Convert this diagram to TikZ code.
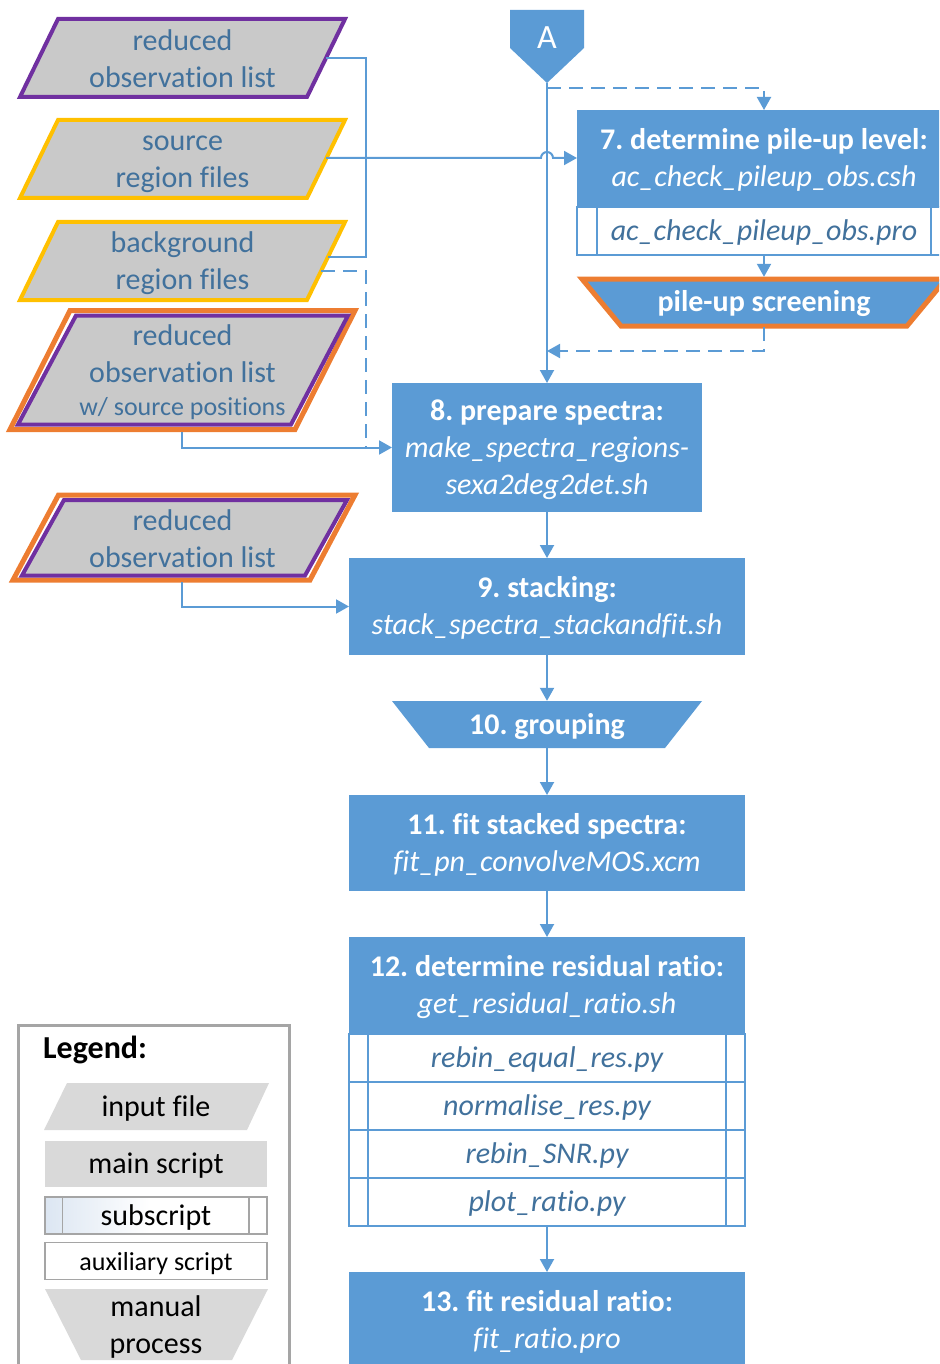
\documentclass[tikz,border=0pt]{standalone}
\usepackage{fontspec}
\setmainfont{Carlito}[Ligatures=CommonOff]
\usetikzlibrary{arrows.meta,calc}
\frenchspacing
\newcommand\Tst{\rule{0pt}{28.4pt}}
\newcommand\Bst{\rule[-8.6pt]{0pt}{8.6pt}}
\newcommand\Sst{\rule[-8.6pt]{0pt}{37pt}}
\definecolor{mainblue}{HTML}{5B9BD5}
\definecolor{txtblue}{HTML}{41719C}
\definecolor{infill}{HTML}{C9C9C9}
\definecolor{legfill}{HTML}{D9D9D9}
\definecolor{purp}{HTML}{7030A0}
\definecolor{yell}{HTML}{FFC000}
\definecolor{oran}{HTML}{ED7D31}
\definecolor{leggray}{HTML}{A5A5A5}
\definecolor{legblue}{HTML}{DCE6F2}
\tikzset{
  conn/.style={draw=mainblue, line width=2pt},
  arr/.style={conn, -{Triangle[width=14pt,length=13pt]}},
  dashconn/.style={conn, dash pattern=on 14pt off 8pt},
  intext/.style={text=txtblue, align=center, font=\fontsize{30}{37}\selectfont, inner sep=0},
  mainbox/.style={fill=mainblue, draw=none, inner sep=0, outer sep=0, text=white, align=center, font=\fontsize{30}{37}\selectfont},
  subrow/.style={draw=mainblue, line width=1.5pt, fill=white, inner sep=0, outer sep=0, text=txtblue, font=\fontsize{30}{36}\selectfont\itshape},
  subline/.style={draw=mainblue, line width=1.5pt},
  legtext/.style={text=black, inner sep=0, align=center, font=\fontsize{30}{37}\selectfont},
}
\begin{document}
\begin{tikzpicture}[x=1pt,y=-1pt]
\useasboundingbox (0,0) rectangle (939,1364);
\clip (0,0) rectangle (939,1364);

% ---------- input parallelograms ----------
\draw[purp, line width=4pt, fill=infill] (58,19) -- (345,19) -- (307,97) -- (20,97) -- cycle;
\node[intext] (i1) at (182.5,59.5) {\Tst reduced\\observation list\Bst};
\draw[yell, line width=4pt, fill=infill] (58,120) -- (345,120) -- (307,198) -- (20,198) -- cycle;
\node[intext] (i2) at (182.5,159.5) {\Tst source\\region files\Bst};
\draw[yell, line width=4pt, fill=infill] (58,222) -- (345,222) -- (307,300) -- (20,300) -- cycle;
\node[intext] (i3) at (182.5,261.5) {\Tst background\\region files\Bst};
% double bordered 4
\draw[oran, line width=5pt] (70,310.5) -- (355,310.5) -- (295,429.5) -- (10,429.5) -- cycle;
\draw[purp, line width=4pt, fill=infill] (76,315.5) -- (348,315.5) -- (291,424.5) -- (18,424.5) -- cycle;
\node[intext] (i4) at (182.5,370.5) {\Tst reduced\\observation list\\[-4.5pt]{\fontsize{26}{32}\selectfont w/ source positions}\Bst};
% double bordered 5
\draw[oran, line width=5pt] (58.5,495) -- (355,495) -- (310,580) -- (13,580) -- cycle;
\draw[purp, line width=4pt, fill=infill] (64,500) -- (347,500) -- (305,575.5) -- (22,575.5) -- cycle;
\node[intext] (i5) at (182.5,539) {\Tst reduced\\observation list\Bst};

\coordinate (i1e) at (326,58);
\coordinate (i2e) at (326,158);
\coordinate (i3e) at (328,257);
\coordinate (i3d) at (321,271);
\coordinate (i4s) at (182,432);
\coordinate (i5s) at (182,582);
\coordinate (jx) at (366,158);
\coordinate (j8) at (366,447.5);

% ---------- off-page connector A ----------
\path[fill=mainblue] (510,10) -- (584,10) -- (584,48) -- (547,83) -- (510,48) -- cycle;
\node[text=white, inner sep=0, font=\fontsize{34}{40}\selectfont] (A) at (547,38) {A};
\coordinate (Atip) at (547,83);
\coordinate (d1) at (547,88);
\coordinate (d2) at (547,351);

% ---------- step 7 ----------
\node[mainbox, minimum width=374pt, minimum height=97pt] (b7) at (764,158.5)
  {\Tst\textbf{7. determine pile-up level:}\\\textit{ac\_check\_pileup\_obs.csh}\Bst};
\node[subrow, minimum width=374pt, minimum height=48pt, anchor=north] (s7) at (b7.south) {\Sst ac\_check\_pileup\_obs.pro};
\draw[subline] ([xshift=20pt]s7.north west) -- ([xshift=20pt]s7.south west);
\draw[subline] ([xshift=-20pt]s7.north east) -- ([xshift=-20pt]s7.south east);

% pile-up screening
\draw[oran, line width=5pt, fill=mainblue] (582,279) -- (946,279) -- (907,326) -- (621,326) -- cycle;
\node[inner sep=0, minimum width=286pt, minimum height=50pt, text=white, font=\fontsize{30}{37}\selectfont\bfseries] (pu) at (764,302) {\Sst pile-up screening};

% ---------- step 8 ----------
\node[mainbox, minimum width=310pt, minimum height=129pt] (b8) at (547,447.5)
  {\Tst\textbf{8. prepare spectra:}\\\textit{make\_spectra\_regions-}\\\textit{sexa2deg2det.sh}\Bst};
% ---------- step 9 ----------
\node[mainbox, minimum width=396pt, minimum height=97pt] (b9) at (547,606.5)
  {\Tst\textbf{9. stacking:}\\\textit{stack\_spectra\_stackandfit.sh}\Bst};
% ---------- step 10 ----------
\path[fill=mainblue] (392,701) -- (702,701) -- (665,748) -- (429,748) -- cycle;
\node[inner sep=0, minimum width=310pt, minimum height=47pt, text=white, font=\fontsize{30}{37}\selectfont\bfseries] (g10) at (547,724.5) {\Sst 10. grouping};
% ---------- step 11 ----------
\node[mainbox, minimum width=396pt, minimum height=96pt] (b11) at (547,843)
  {\Tst\textbf{11. fit stacked spectra:}\\\textit{fit\_pn\_convolveMOS.xcm}\Bst};
% ---------- step 12 ----------
\node[mainbox, minimum width=396pt, minimum height=97pt] (b12) at (547,985.5)
  {\Tst\textbf{12. determine residual ratio:}\\\textit{get\_residual\_ratio.sh}\Bst};
\node[subrow, minimum width=396pt, minimum height=48pt, anchor=north] (r1) at (b12.south) {\Sst rebin\_equal\_res.py};
\node[subrow, minimum width=396pt, minimum height=48pt, anchor=north] (r2) at (r1.south) {\Sst normalise\_res.py};
\node[subrow, minimum width=396pt, minimum height=48pt, anchor=north] (r3) at (r2.south) {\Sst rebin\_SNR.py};
\node[subrow, minimum width=396pt, minimum height=48pt, anchor=north] (r4) at (r3.south) {\Sst plot\_ratio.py};
\draw[subline] ([xshift=19pt]r1.north west) -- ([xshift=19pt]r4.south west);
\draw[subline] ([xshift=-19pt]r1.north east) -- ([xshift=-19pt]r4.south east);
% ---------- step 13 ----------
\node[mainbox, minimum width=396pt, minimum height=96pt] (b13) at (547,1320)
  {\Tst\textbf{13. fit residual ratio:}\\\textit{fit\_ratio.pro}\Bst};

% ---------- connectors ----------
\draw[conn] (i1e) -| (jx) |- (i3e);
\draw[arr] (i2e) -- ($(Atip|-i2e)+(-6,0)$) arc (180:360:6) -- (b7.west|-i2e);
\draw[dashconn] (i3d) -| (j8);
\draw[arr] (i4s) |- (b8.west);
\draw[arr] (i5s) |- (b9.west);
\draw[arr] (Atip) -- (b8.north);
\draw[dashconn, -{Triangle[width=14pt,length=13pt]}] (d1) -| (b7.north);
\draw[arr] (s7.south) -- (pu.north);
\draw[dashconn, -{Triangle[width=14pt,length=13pt]}] (pu.south) |- (d2);
\draw[arr] (b8.south) -- (b9.north);
\draw[arr] (b9.south) -- (g10.north);
\draw[arr] (g10.south) -- (b11.north);
\draw[arr] (b11.south) -- (b12.north);
\draw[arr] (r4.south) -- (b13.north);

% ---------- legend ----------
\draw[leggray, line width=3pt, fill=white] (18,1025) rectangle (289,1390);
\node[anchor=west, inner sep=0, text=black, font=\fontsize{32}{38}\selectfont\bfseries] (leg) at (43,1050) {Legend:};
\path[fill=legfill] (67,1083) -- (269,1083) -- (247,1130) -- (44,1130) -- cycle;
\node[legtext] (lin) at (156,1106.5) {\Sst input file};
\node[fill=legfill, minimum width=222pt, minimum height=46pt, inner sep=0, text=black, font=\fontsize{30}{37}\selectfont] (lmain) at (156,1164) {\Sst main script};
\shade[left color=legblue, right color=white] (45,1198) rectangle (150,1233);
\node[draw=leggray, line width=1.5pt, minimum width=222pt, minimum height=35pt, inner sep=0, text=black, font=\fontsize{30}{37}\selectfont] (lsub) at (156,1215.5) {\Sst subscript};
\draw[leggray, line width=1.5pt] ([xshift=18pt]lsub.north west) -- ([xshift=18pt]lsub.south west);
\draw[leggray, line width=1.5pt] ([xshift=-19pt]lsub.north east) -- ([xshift=-19pt]lsub.south east);
\node[draw=leggray, line width=1.5pt, fill=white, minimum width=222pt, minimum height=34pt, inner sep=0, text=black, font=\fontsize{26}{32}\selectfont] (laux) at (156,1261) {\Sst auxiliary script};
\path[fill=legfill] (45,1289) -- (268,1289) -- (232,1360) -- (81,1360) -- cycle;
\node[legtext] (lman) at (156,1325.5) {\Tst manual\\process\Bst};
\end{tikzpicture}
\end{document}
